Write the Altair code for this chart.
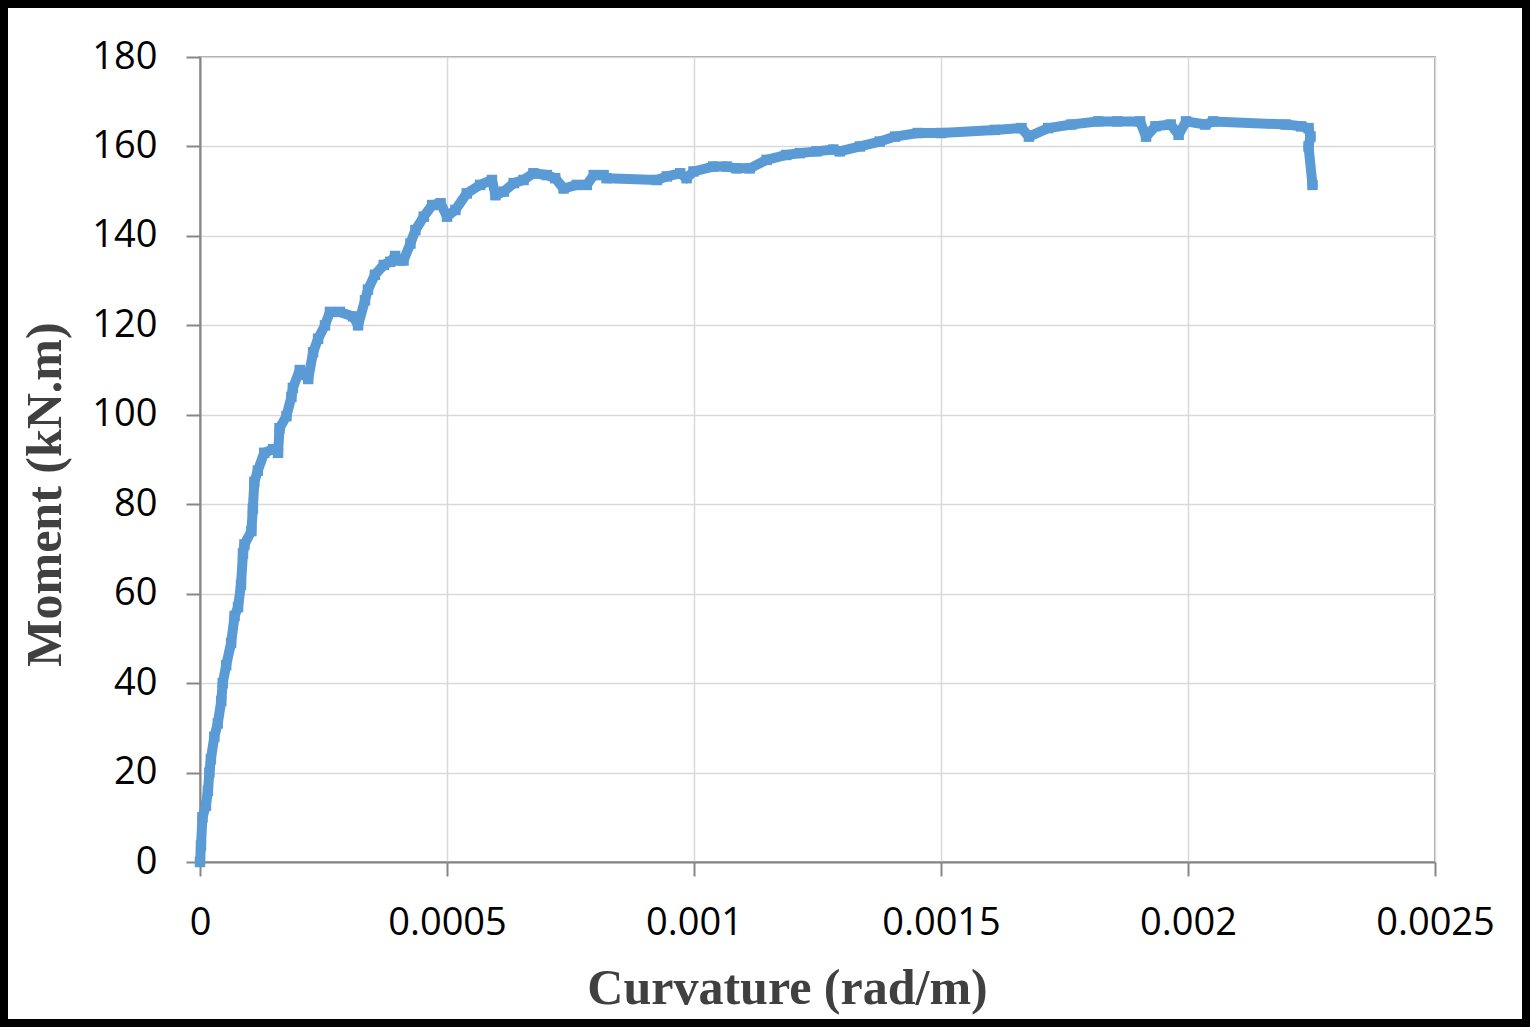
import altair as alt
import pandas as pd

curvature = [
    0.0, 0.000002, 0.000005, 0.000012, 0.000016, 0.000019, 0.000022, 0.000029,
    0.000036, 0.000043, 0.000046, 0.000053, 0.000063, 0.00007, 0.000077, 0.000083,
    0.000087, 0.00009, 0.000104, 0.000107, 0.00011, 0.000117, 0.00013, 0.000148,
    0.000158, 0.000161, 0.000175, 0.000185, 0.000188, 0.000202, 0.000219, 0.000229,
    0.000239, 0.000253, 0.000263, 0.000283, 0.00031, 0.00032, 0.000334, 0.00034,
    0.000354, 0.000372, 0.000385, 0.000395, 0.000405, 0.000412, 0.000426, 0.000436,
    0.000453, 0.00047, 0.000487, 0.0005, 0.000517, 0.00054, 0.000567, 0.000591,
    0.000598, 0.000615, 0.000635, 0.000655, 0.000675, 0.000702, 0.000719, 0.000736,
    0.000763, 0.000783, 0.000797, 0.000817, 0.000823, 0.000925, 0.000945, 0.000972,
    0.000985, 0.000999, 0.001039, 0.001066, 0.001086, 0.001113, 0.001147, 0.001187,
    0.001214, 0.001248, 0.001282, 0.001295, 0.001336, 0.001376, 0.001407, 0.001453,
    0.0015, 0.001609, 0.001663, 0.001678, 0.001717, 0.001764, 0.001818, 0.001857,
    0.001903, 0.001915, 0.001934, 0.001965, 0.001981, 0.001996, 0.002035, 0.002051,
    0.002198, 0.002229, 0.002244, 0.002248, 0.002244, 0.002252,
]
moment = [
    0.0, 3.7, 10.0, 12.6, 15.9, 20.0, 23.0, 28.0,
    31.0, 36.0, 40.0, 44.0, 49.0, 55.0, 57.0, 62.0,
    69.0, 71.0, 74.0, 79.0, 85.0, 87.5, 91.5, 92.3,
    91.5, 97.0, 99.7, 104.0, 106.0, 110.0, 108.0, 114.0,
    117.0, 120.0, 123.0, 123.0, 122.0, 120.0, 125.6, 128.0,
    131.3, 133.5, 134.2, 135.5, 134.5, 134.5, 138.3, 141.3,
    144.3, 146.9, 147.3, 144.3, 145.8, 149.5, 151.4, 152.5,
    149.1, 149.9, 151.8, 152.5, 154.0, 153.6, 152.9, 150.6,
    151.4, 151.4, 153.6, 153.6, 152.9, 152.5, 153.3, 154.0,
    152.9, 154.4, 155.5, 155.5, 155.1, 155.1, 157.0, 158.1,
    158.5, 158.9, 159.3, 158.9, 160.0, 161.1, 162.2, 163.0,
    163.0, 163.7, 164.1, 162.2, 164.1, 164.9, 165.6, 165.6,
    165.6, 162.2, 164.5, 164.9, 162.6, 165.6, 164.9, 165.6,
    164.9, 164.5, 164.1, 162.2, 160.0, 151.4,
]

x_ticks = [0, 0.0005, 0.001, 0.0015, 0.002, 0.0025]
y_ticks = [0, 20, 40, 60, 80, 100, 120, 140, 160, 180]

df = pd.DataFrame({"curvature": curvature, "moment": moment, "idx": list(range(len(curvature)))})

LABEL_FONT = "Open Sans"
TITLE_FONT = "Liberation Serif"
BLUE = "#5B9BD5"

x_enc = alt.X(
    "curvature:Q",
    scale=alt.Scale(domain=[0, 0.0025], nice=False, zero=True),
    axis=alt.Axis(
        values=x_ticks, format=".4~f", title="Curvature (rad/m)",
        labelPadding=28, labelFlush=False, labelOverlap=False,
        titleX=587, titleY=141, titleAlign="center",
        titleBaseline="alphabetic", titleAnchor="middle",
    ),
)
y_enc = alt.Y(
    "moment:Q",
    scale=alt.Scale(domain=[0, 180], nice=False),
    axis=alt.Axis(
        values=y_ticks, title="Moment (kN.m)", labelPadding=29,
        labelFlush=False, labelOverlap=False,
        titleX=-140, titleY=437, titleAngle=270, titleAlign="center",
        titleBaseline="alphabetic", titleAnchor="middle",
    ),
)

line = alt.Chart(df).mark_line(
    color=BLUE, strokeWidth=10, strokeCap="round", strokeJoin="round"
).encode(x=x_enc, y=y_enc, order="idx:Q")

dots = alt.Chart(df).mark_point(
    filled=True, color=BLUE, opacity=1, size=110, shape="square"
).encode(x="curvature:Q", y="moment:Q")

frame = alt.Chart(pd.DataFrame({"a": [0]})).mark_rect(
    filled=False, stroke="black", strokeWidth=8
).encode(
    x=alt.value(-196), x2=alt.value(1326), y=alt.value(-53), y2=alt.value(966)
)

chart = alt.layer(line, dots, frame).properties(
    width=1235, height=805,
    autosize=alt.AutoSizeParams(type="none"),
    padding={"left": 200, "top": 57, "right": 97, "bottom": 174},
    background="white",
).configure_view(
    stroke="#a6a6a6", strokeWidth=2
).configure_axis(
    grid=True, gridColor="#d9d9d9", gridWidth=1.5,
    domainColor="#868686", domainWidth=2,
    tickColor="#868686", tickWidth=2, tickSize=14,
    labelFont=LABEL_FONT, labelFontSize=38, labelColor="black",
    titleFont=TITLE_FONT, titleFontSize=50, titleFontWeight="bold", titleColor="#404040",
)

chart.save("out.html", embed_options={"renderer": "svg", "actions": False})
